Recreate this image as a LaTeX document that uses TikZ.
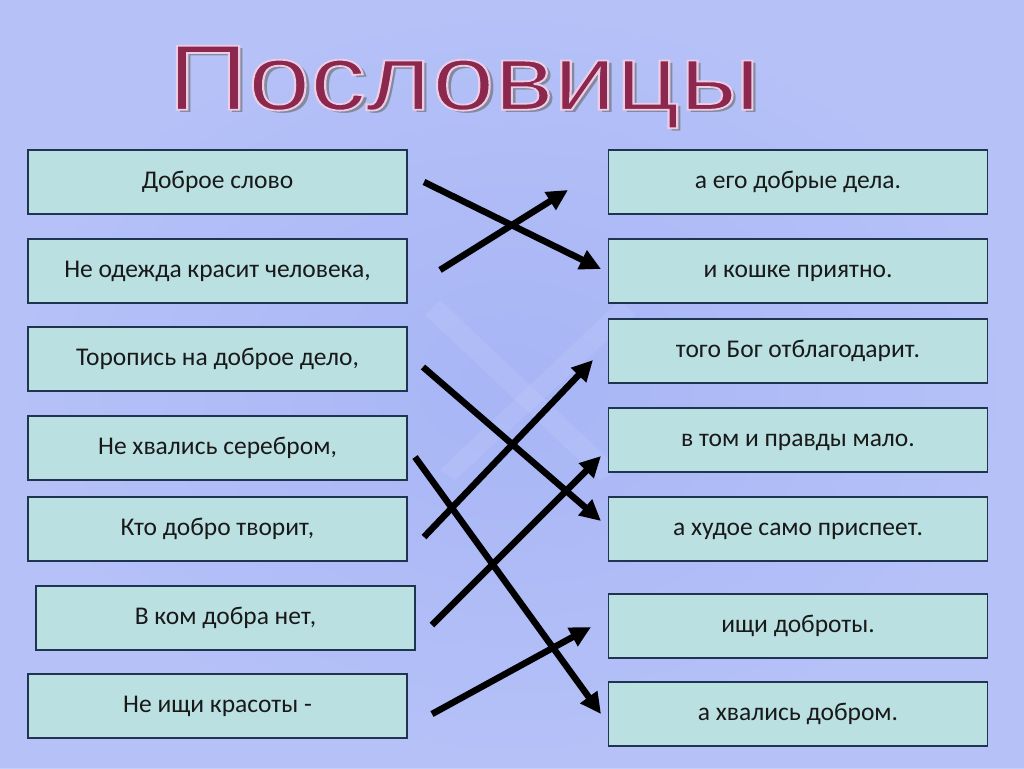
\documentclass[tikz,border=0pt]{standalone}
\usepackage{fontspec}
\setmainfont{Carlito}
\newfontfamily\titlefont{Liberation Sans}
\usetikzlibrary{arrows.meta}
\definecolor{bgmid}{RGB}{168,182,246}
\definecolor{bglight}{RGB}{196,206,250}
\definecolor{boxfill}{RGB}{186,224,226}
\definecolor{boxline}{RGB}{30,52,80}
\definecolor{titlecol}{RGB}{140,40,78}
\tikzset{
  prov/.style={draw=boxline, line width=1.3pt, fill=boxfill, minimum width=379pt, minimum height=64pt, inner sep=0pt, text height=17pt, text depth=4pt, font=\fontsize{25.5}{28}\selectfont, text=black!90},
  match/.style={line width=6.5pt, draw=black, -{Triangle[length=21pt,width=20pt]}},
  ttl/.style={font=\titlefont\fontsize{93}{100}\selectfont, inner sep=0pt, xscale=1.2}
}
\newcommand{\outlinedtext}[1]{\special{pdf:literal 2 Tr 1.8 w 0.93 0.80 0.90 RG}#1\special{pdf:literal 0 Tr}}
\begin{document}
\begin{tikzpicture}[x=1pt,y=-1pt]
\useasboundingbox (0,0) rectangle (1024,768);
\shade[inner color=bgmid, outer color=bglight] (0,0) rectangle (1024,768);
\fill[bgmid, opacity=0.5] (0,0) rectangle (1024,768);
% faint light streaks
\fill[white, opacity=0.07] (440,300) -- (620,470) -- (600,480) -- (425,315) -- cycle;
\fill[white, opacity=0.07] (620,300) -- (440,470) -- (455,480) -- (635,315) -- cycle;
% title
\node[ttl, text=black!60, opacity=0.6] (tshadow) at (468,90) {Пословицы};
\node[ttl, text=titlecol] (title) at (464,87) {\outlinedtext{Пословицы}};
% left boxes
\node[prov] (l1) at (217.5,182) {Доброе слово};
\node[prov] (l2) at (217.5,271) {Не одежда красит человека,};
\node[prov] (l3) at (217.5,359) {Торопись на доброе дело,};
\node[prov] (l4) at (217.5,448) {Не хвались серебром,};
\node[prov] (l5) at (217.5,529) {Кто добро творит,};
\node[prov] (l6) at (225.5,618) {В ком добра нет,};
\node[prov] (l7) at (217.5,706) {Не ищи красоты -};
% right boxes
\node[prov] (r1) at (798,182) {а его добрые дела.};
\node[prov] (r2) at (798,271) {и кошке приятно.};
\node[prov] (r3) at (798,351) {того Бог отблагодарит.};
\node[prov] (r4) at (798,440) {в том и правды мало.};
\node[prov] (r5) at (798,529) {а худое само приспеет.};
\node[prov] (r6) at (798,626) {ищи доброты.};
\node[prov] (r7) at (798,714) {а хвались добром.};
% arrow end points
\coordinate (s1) at (424,182); \coordinate (e1) at (601,269);
\coordinate (s2) at (440,270); \coordinate (e2) at (568,190);
\coordinate (s3) at (423,367); \coordinate (e3) at (601,521);
\coordinate (s4) at (424,537); \coordinate (e4) at (593,360);
\coordinate (s5) at (415,457); \coordinate (e5) at (601,714);
\coordinate (s6) at (432,625); \coordinate (e6) at (601,456);
\coordinate (s7) at (432,714); \coordinate (e7) at (591,627);
\draw[match] (s1) -- (e1);
\draw[match] (s2) -- (e2);
\draw[match] (s3) -- (e3);
\draw[match] (s4) -- (e4);
\draw[match] (s5) -- (e5);
\draw[match] (s6) -- (e6);
\draw[match] (s7) -- (e7);
\end{tikzpicture}
\end{document}
